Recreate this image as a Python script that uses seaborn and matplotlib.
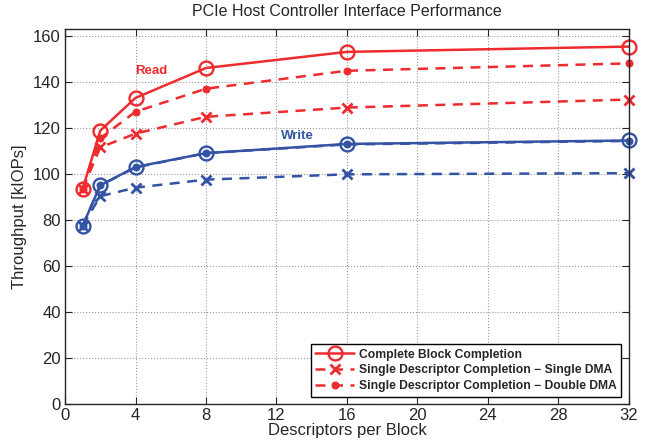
import numpy as np
import pandas as pd
import matplotlib
matplotlib.use("Agg")
import matplotlib.pyplot as plt
import seaborn as sns

descriptors = [1, 2, 4, 8, 16, 32]
read_complete = [93.5, 118.8, 133.0, 146.0, 153.0, 155.3]
read_single_dma = [93.5, 111.5, 117.5, 124.8, 128.8, 132.3]
read_double_dma = [93.5, 115.5, 127.0, 137.0, 144.8, 148.0]
write_complete = [77.5, 95.0, 103.0, 109.0, 113.0, 114.5]
write_single_dma = [77.5, 90.3, 94.0, 97.5, 99.8, 100.3]
write_double_dma = [77.5, 95.0, 102.8, 109.0, 112.8, 114.3]

series_names = ["Complete Block Completion",
                "Single Descriptor Completion \u2212 Single DMA",
                "Single Descriptor Completion \u2212 Double DMA"]
xticks = [0, 4, 8, 12, 16, 20, 24, 28, 32]
yticks = [0, 20, 40, 60, 80, 100, 120, 140, 160]

sns.set_style("ticks")
plt.rcParams['font.family'] = ['Liberation Sans', 'DejaVu Sans']

red = "#ee2b2e"
blue = "#3553a4"

fig = plt.figure(figsize=(6.57, 4.44), dpi=100)
ax = fig.add_axes([0.099, 0.090, 0.858, 0.845])

styles = [
    dict(linestyle="-", marker="o", markersize=10, markerfacecolor="none", markeredgewidth=1.7),
    dict(linestyle=(0, (4, 3)), marker="x", markersize=7, markeredgewidth=2.0),
    dict(linestyle=(0, (4, 3)), marker="o", markersize=5),
]

groups = [(red, [read_complete, read_single_dma, read_double_dma]),
          (blue, [write_complete, write_single_dma, write_double_dma])]

handles = []
for gi, (color, vals) in enumerate(groups):
    for si, v in enumerate(vals):
        df = pd.DataFrame({"x": descriptors, "y": v})
        st = dict(styles[si])
        if si == 2:
            st["markerfacecolor"] = color
        sns.lineplot(data=df, x="x", y="y", ax=ax, color=color, linewidth=1.8,
                     markeredgecolor=color, clip_on=False, **st)
        if gi == 0:
            handles.append(ax.lines[-1])

ax.set_xlim(0, 32)
ax.set_ylim(0, 163)
ax.set_xticks(xticks)
ax.set_yticks(yticks)
ax.tick_params(direction="in", labelsize=12, length=5, top=True, right=True, pad=3)
for s in ax.spines.values():
    s.set_visible(True)
    s.set_linewidth(1.0)
ax.grid(True, linestyle=":", color="#999999", linewidth=0.8)

ax.set_xlabel("Descriptors per Block", fontsize=12, labelpad=0)
ax.set_ylabel("Throughput [kIOPs]", fontsize=12, labelpad=4)
ax.set_title("PCIe Host Controller Interface Performance", fontsize=11.5, pad=9)

ax.text(4.9, 144.5, "Read", color=red, fontsize=9.5, fontweight="bold", ha="center", va="center")
ax.text(13.2, 116.5, "Write", color=blue, fontsize=9.5, fontweight="bold", ha="center", va="center")

leg = ax.legend(handles, series_names, loc="lower right", frameon=True, fancybox=False,
                edgecolor="black", framealpha=1, prop=dict(weight="bold", size=8.7),
                handlelength=3.2, borderpad=0.4, labelspacing=0.3, handletextpad=0.4,
                borderaxespad=0.6)
leg.get_frame().set_linewidth(1.0)

fig.savefig("out.png", dpi=100)
